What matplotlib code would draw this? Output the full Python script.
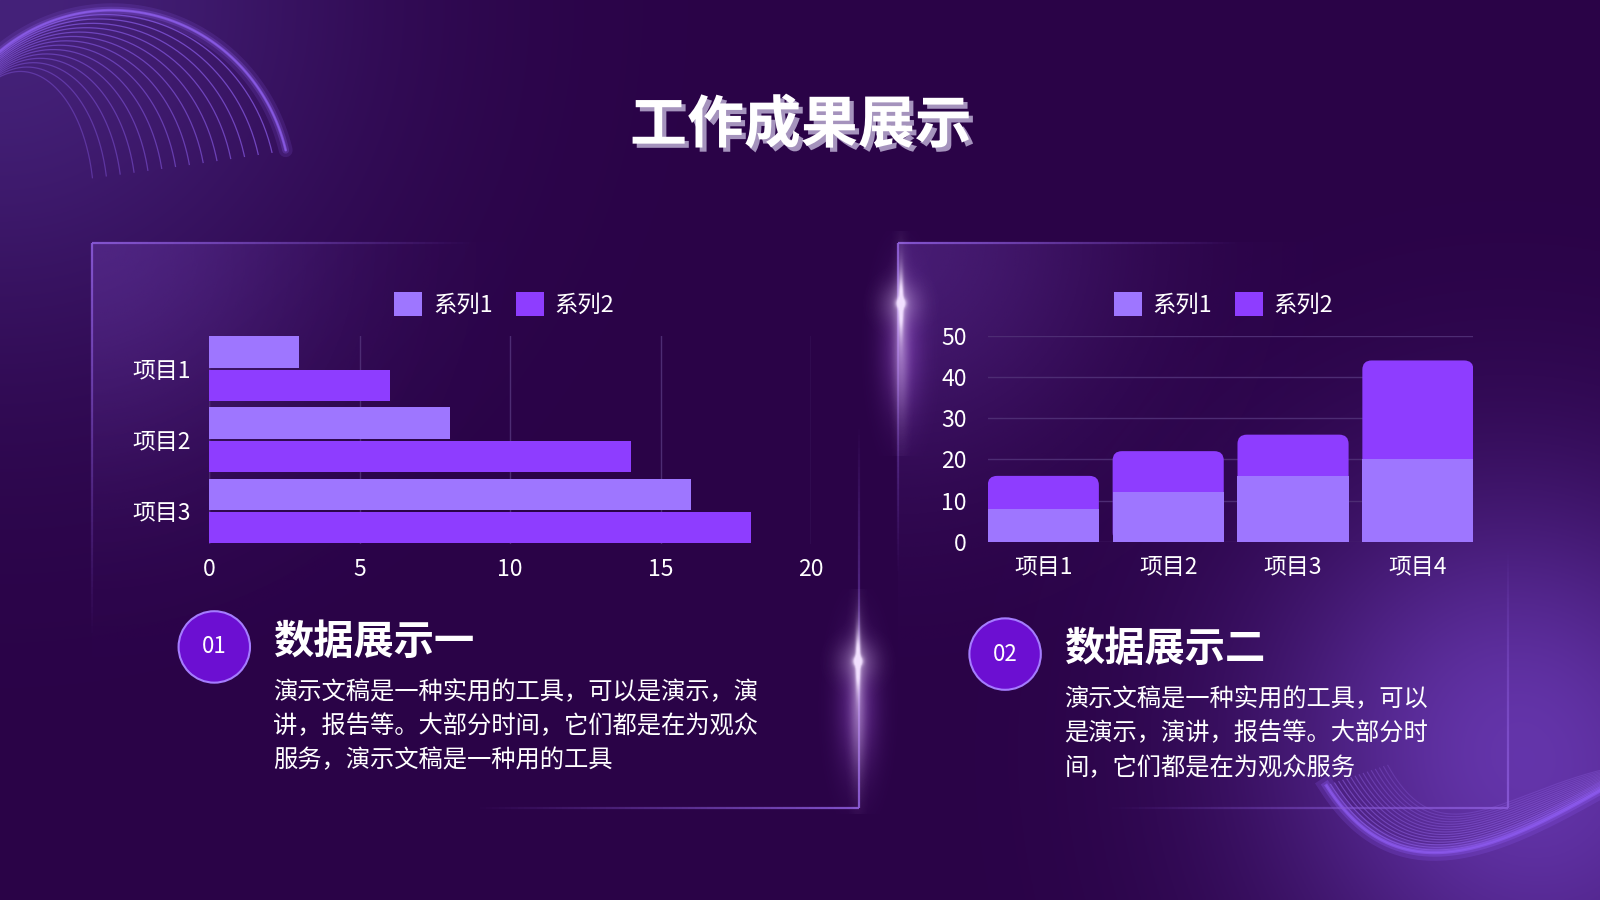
import numpy as np
import matplotlib.pyplot as plt
from matplotlib.patches import Circle, FancyBboxPatch
from matplotlib.collections import LineCollection
import matplotlib.patheffects as pe

plt.rcParams['font.family'] = ['Noto Sans CJK SC', 'DejaVu Sans']

# ---- data ----
title = '工作成果展示'
series_names = ['系列1', '系列2']
bar_items = ['项目1', '项目2', '项目3']
bar_s1 = [3, 8, 16]
bar_s2 = [6, 14, 18]
bar_ticks = [0, 5, 10, 15, 20]
col_items = ['项目1', '项目2', '项目3', '项目4']
col_s1 = [8, 12, 16, 20]
col_s2 = [8, 10, 10, 24]
col_ticks = [0, 10, 20, 30, 40, 50]
head1 = '数据展示一'
body1 = ['演示文稿是一种实用的工具，可以是演示，演',
         '讲，报告等。大部分时间，它们都是在为观众',
         '服务，演示文稿是一种用的工具']
head2 = '数据展示二'
body2 = ['演示文稿是一种实用的工具，可以',
         '是演示，演讲，报告等。大部分时',
         '间，它们都是在为观众服务']

C1 = '#9e76ff'
C2 = '#8e3dff'
BG = '#2a0347'
GRID = '#4d2c73'
BORDER = '#8a5ad8'

W, H = 1568, 882
fig = plt.figure(figsize=(16, 9), dpi=100)
fig.patch.set_facecolor(BG)

# background layer in reference pixel coords
bg = fig.add_axes([0, 0, 1, 1])
bg.set_xlim(0, W)
bg.set_ylim(H, 0)
bg.axis('off')


def hex_rgb(h):
    h = h.lstrip('#')
    return np.array([int(h[i:i + 2], 16) / 255 for i in (0, 2, 4)])


yy, xx = np.mgrid[0:H:2, 0:W:2]
img = np.ones(xx.shape + (3,)) * hex_rgb(BG)
g1 = np.exp(-((xx - 0) ** 2 + (yy - 0) ** 2) / (2 * 240.0 ** 2))
img += g1[..., None] * (hex_rgb('#45227a') - hex_rgb(BG))
g2 = np.exp(-((xx - 1470) ** 2 + (yy - 700) ** 2) / (2 * 170.0 ** 2))
img += g2[..., None] * (hex_rgb('#5a2c98') - hex_rgb(BG)) * 0.9
g3 = np.exp(-((xx - 1568) ** 2 + (yy - 882) ** 2) / (2 * 200.0 ** 2))
img += g3[..., None] * (hex_rgb('#4a1f80') - hex_rgb(BG)) * 0.7
bg.imshow(np.clip(img, 0, 1), extent=[0, W, H, 0], zorder=0, aspect='auto')

# panel glow from top-left corners
for (px0, py0, px1, py1) in [(90, 238, 842, 792), (880, 238, 1478, 792)]:
    sy, sx = np.mgrid[py0:py1:2, px0:px1:2]
    a = np.exp(-((sx - px0) ** 2 + (sy - py0) ** 2) / (2 * 150.0 ** 2)) * 0.45
    rgba = np.zeros(sx.shape + (4,))
    rgba[..., :3] = hex_rgb('#6a3aa8')
    rgba[..., 3] = a
    bg.imshow(rgba, extent=[px0, px1, py1, py0], zorder=1, aspect='auto')


def fade_line(x0, y0, x1, y1, a0=0.9, a1=0.0, color=BORDER, lw=1.6, n=60):
    xs = np.linspace(x0, x1, n + 1)
    ys = np.linspace(y0, y1, n + 1)
    segs = [[(xs[i], ys[i]), (xs[i + 1], ys[i + 1])] for i in range(n)]
    cols = [(*hex_rgb(color), a0 + (a1 - a0) * i / n) for i in range(n)]
    bg.add_collection(LineCollection(segs, colors=cols, linewidths=lw, zorder=2))


# panel borders
fade_line(90, 238, 460, 238)
fade_line(90, 238, 90, 620)
fade_line(842, 792, 842, 420)
fade_line(842, 792, 470, 792)
fade_line(880, 238, 1210, 238)
fade_line(880, 238, 880, 560)
fade_line(1478, 792, 1478, 540)
fade_line(1478, 792, 1090, 792)

# top-left arcs
n_arc = 15
for i in range(n_arc):
    t = i / (n_arc - 1)
    cx = 110 + (20 - 110) * t
    cy = 190 + (200 - 190) * t
    rx = 175 + (72 - 175) * t
    ry = 180 + (130 - 180) * t
    te = 0.24 + (0.2 - 0.24) * t
    th = np.linspace(np.pi, te, 200)
    bg.plot(cx + rx * np.cos(th), cy - ry * np.sin(th), color='#8a5ce8', lw=0.9,
            alpha=0.75 - 0.35 * t, zorder=1.5)
th = np.linspace(np.pi, 0.24, 200)
for lw, al in [(10, 0.15), (5, 0.25), (2, 0.6)]:
    bg.plot(110 + 175 * np.cos(th), 190 - 180 * np.sin(th), color='#9060f0',
            lw=lw, alpha=al, zorder=1.6, solid_capstyle='round')

# bottom-right waves
tb = np.linspace(0, 1, 200)[:, None]


def bez(p0, p1, p2, p3):
    p0, p1, p2, p3 = [np.array(v, dtype=float) for v in (p0, p1, p2, p3)]
    return ((1 - tb) ** 3) * p0 + 3 * ((1 - tb) ** 2) * tb * p1 + 3 * (1 - tb) * tb ** 2 * p2 + tb ** 3 * p3


for i in range(16):
    s = i / 15
    pts = bez((1300 + 60 * s, 770 - 20 * s), (1370 + 40 * s, 880 - 40 * s),
              (1470, 830 - 50 * s), (1568, 775 - 20 * s))
    bg.plot(pts[:, 0], pts[:, 1], color='#9a6cf0', lw=0.8, alpha=0.55 - 0.3 * s, zorder=1.5)
pts = bez((1300, 770), (1370, 880), (1470, 830), (1568, 775))
for lw, al in [(12, 0.2), (6, 0.3), (2.5, 0.6)]:
    bg.plot(pts[:, 0], pts[:, 1], color='#8f5cf5', lw=lw, alpha=al, zorder=1.6)

# lens flares
for fx, fy in [(882, 297), (840, 648)]:
    fy0, fy1 = fy - 70, fy + 150
    sy, sx = np.mgrid[fy0:fy1:1, fx - 60:fx + 60:1]
    dx, dy = sx - fx, sy - fy
    r2 = dx ** 2 + dy ** 2
    # soft pink / blue haze below the star
    haze = np.zeros(sx.shape + (4,))
    haze[..., :3] = hex_rgb('#c070ff')
    haze[..., 3] = 0.35 * np.exp(-dx ** 2 / (2 * 14.0 ** 2)) * np.exp(-(dy - 45) ** 2 / (2 * 45.0 ** 2))
    bg.imshow(haze, extent=[fx - 60, fx + 60, fy1, fy0], zorder=2.8, aspect='auto')
    a = (np.exp(-r2 / (2 * 3.0 ** 2))
         + 0.9 * np.exp(-dx ** 2 / (2 * 1.6 ** 2)) * np.exp(-dy ** 2 / (2 * 22.0 ** 2))
         + 0.35 * np.exp(-dx ** 2 / (2 * 5.0 ** 2)) * np.exp(-(dy - 40) ** 2 / (2 * 50.0 ** 2))
         + 0.25 * np.exp(-r2 / (2 * 14.0 ** 2)))
    rgba = np.zeros(sx.shape + (4,))
    rgba[..., :3] = hex_rgb('#f2e0ff')
    rgba[..., 3] = np.clip(a, 0, 1)
    bg.imshow(rgba, extent=[fx - 60, fx + 60, fy1, fy0], zorder=3, aspect='auto')

# title
bg.text(785, 123, title, ha='center', va='center', fontsize=41, fontweight='bold',
        color='white', zorder=5,
        path_effects=[pe.withSimplePatchShadow(offset=(3, -3), shadow_rgbFace='#a593bd', alpha=1)])

# section labels
for (cx, cy, num, hx, hy, head, body, by) in [
        (210, 634, '01', 268, 630, head1, body1, 678),
        (985, 641, '02', 1043, 636, head2, body2, 685)]:
    bg.add_patch(Circle((cx, cy), 35, facecolor='#6c0fd2', edgecolor='#a57cff', lw=1.5, zorder=4))
    bg.text(cx, cy, num, ha='center', va='center', fontsize=16, color='white', zorder=5)
    bg.text(hx, hy, head, ha='left', va='center', fontsize=29, fontweight='bold',
            color='white', zorder=5)
    for k, line in enumerate(body):
        bg.text(hx, by + k * 33.7, line, ha='left', va='center', fontsize=17.5,
                color='white', zorder=5)

# ---- left chart: horizontal bars ----
ax1 = fig.add_axes([205 / W, 1 - 533 / H, 590 / W, 204 / H])
ax1.set_facecolor('none')
yb = np.arange(len(bar_items))
ax1.barh(yb - 0.234, bar_s1, height=0.44, color=C1, label=series_names[0], zorder=3)
ax1.barh(yb + 0.234, bar_s2, height=0.44, color=C2, label=series_names[1], zorder=3)
ax1.set_xlim(0, 20)
ax1.set_ylim(2.46, -0.46)
ax1.set_xticks(bar_ticks)
ax1.set_yticks(yb)
ax1.set_yticklabels(bar_items)
ax1.grid(axis='x', color=GRID, lw=1, zorder=0)
for sp in ax1.spines.values():
    sp.set_visible(False)
ax1.axvline(0, color=GRID, lw=1, zorder=1)
ax1.tick_params(axis='x', length=0, colors='white', labelsize=16.5, pad=10)
ax1.tick_params(axis='y', length=0, colors='white', labelsize=16.5, pad=13)
ax1.legend(loc='center', bbox_to_anchor=(0.49, 1.152), ncol=2, frameon=False,
           fontsize=16.8, labelcolor='white', handlelength=1.2, handleheight=1.2,
           handletextpad=0.45, columnspacing=1.0)

# ---- right chart: stacked columns ----
ax2 = fig.add_axes([968 / W, 1 - 531 / H, 476 / W, 202 / H])
ax2.set_facecolor('none')
xc = np.arange(len(col_items))
lower = ax2.bar(xc, col_s1, width=0.89, color=C1, label=series_names[0], zorder=4)
upper = ax2.bar(xc, col_s2, width=0.89, bottom=col_s1, color=C2, label=series_names[1], zorder=3)
ax2.legend(loc='center', bbox_to_anchor=(0.485, 1.153), ncol=2, frameon=False,
           fontsize=16.8, labelcolor='white', handlelength=1.2, handleheight=1.2,
           handletextpad=0.45, columnspacing=1.0)
# give the top segments rounded upper corners (lower segment hides the bottom rounding)
for rect in upper:
    x0, y0 = rect.get_x(), rect.get_y()
    w, h = rect.get_width(), rect.get_height()
    rect.set_visible(False)
    ax2.add_patch(FancyBboxPatch((x0, 0), w, y0 + h,
                                 boxstyle='round,pad=0,rounding_size=0.075',
                                 mutation_aspect=30, facecolor=C2, edgecolor='none', zorder=3))
ax2.set_xlim(-0.445, 3.445)
ax2.set_ylim(0, 50)
ax2.set_yticks(col_ticks)
ax2.set_xticks(xc)
ax2.set_xticklabels(col_items)
ax2.grid(axis='y', color=GRID, lw=1, zorder=0)
for sp in ax2.spines.values():
    sp.set_visible(False)
ax2.tick_params(axis='x', length=0, colors='white', labelsize=16.5, pad=10)
ax2.tick_params(axis='y', length=0, colors='white', labelsize=16.5, pad=15)

fig.savefig('out.png', dpi=100, facecolor=BG)
